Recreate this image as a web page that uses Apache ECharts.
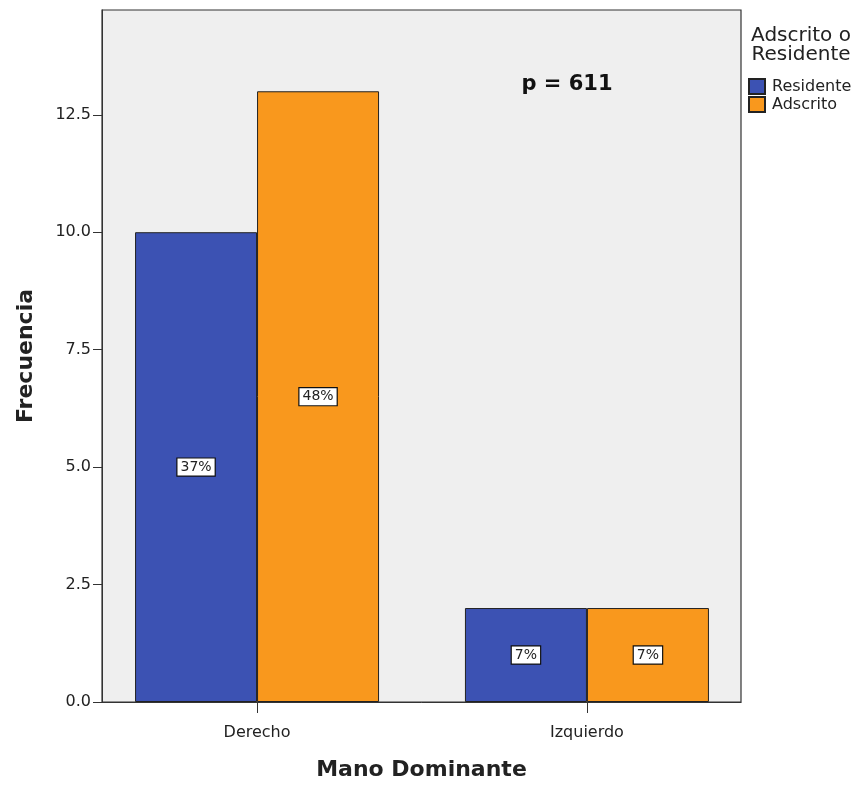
<!DOCTYPE html>
<html>
<head>
<meta charset="utf-8">
<script src="https://cdn.jsdelivr.net/npm/echarts@6/dist/echarts.min.js"></script>
<style>
  html, body { margin: 0; padding: 0; background: #ffffff; }
  #chart { width: 857px; height: 786px; }
</style>
</head>
<body>
<div id="chart"></div>
<script>
// ---- data ----
var categories = ['Derecho', 'Izquierdo'];
var seriesNames = ['Residente', 'Adscrito'];
var residente = [10, 2];
var adscrito = [13, 2];
var residentePct = ['37%', '7%'];
var adscritoPct = ['48%', '7%'];
var yTicks = [0, 2.5, 5, 7.5, 10, 12.5];
var legendTitle = 'Adscrito o\nResidente';
var annotation = 'p = 611';

var FONT = '"DejaVu Sans", Verdana, sans-serif';

function toPairs(vals) {
  return vals.map(function (v, i) { return [i, v]; });
}

function makeSeries(name, vals, pcts, color) {
  return {
    name: name,
    type: 'bar',
    barWidth: 122,
    barGap: '0%',
    data: toPairs(vals),
    itemStyle: { color: color, borderColor: '#222', borderWidth: 1 },
    label: {
      show: true,
      position: 'inside',
      formatter: function (p) { return pcts[p.dataIndex]; },
      color: '#222',
      fontFamily: FONT,
      fontSize: 14,
      backgroundColor: '#ffffff',
      borderColor: '#111',
      borderWidth: 1.2,
      padding: [2, 3, 1, 3]
    }
  };
}

var chart = echarts.init(document.getElementById('chart'), null, { renderer: 'canvas' });
chart.setOption({
  animation: false,
  backgroundColor: '#ffffff',
  grid: {
    left: 102, top: 10, width: 639, height: 701,
    show: true, backgroundColor: '#efefef', borderColor: '#333', borderWidth: 1.2
  },
  legend: {
    orient: 'vertical',
    left: 748, top: 78,
    padding: 0,
    itemWidth: 16, itemHeight: 15, itemGap: 1,
    icon: 'rect',
    data: seriesNames,
    textStyle: { fontFamily: FONT, fontSize: 16, color: '#222', padding: [0, 0, 0, 2] }
  },
  xAxis: {
    type: 'value',
    min: -0.47, max: 1.467,
    name: 'Mano Dominante',
    nameLocation: 'middle',
    nameGap: 57,
    nameTextStyle: { fontFamily: FONT, fontSize: 22, fontWeight: 'bold', color: '#222' },
    splitLine: { show: false },
    axisLine: { show: true, onZero: false, lineStyle: { color: '#333' } },
    axisTick: { show: true, customValues: [0, 1], length: 11, inside: false, lineStyle: { color: '#333' } },
    axisLabel: {
      customValues: [0, 1],
      formatter: function (v) { return categories[Math.round(v)] || ''; },
      fontFamily: FONT, fontSize: 16, color: '#222', margin: 23
    }
  },
  yAxis: {
    type: 'value',
    min: 0, max: 14.73,
    name: 'Frecuencia',
    nameLocation: 'middle',
    nameGap: 65,
    nameRotate: 90,
    nameTextStyle: { fontFamily: FONT, fontSize: 22, fontWeight: 'bold', color: '#222' },
    splitLine: { show: false },
    axisLine: { show: true, onZero: false, lineStyle: { color: '#333' } },
    axisTick: { show: true, customValues: yTicks, length: 9, lineStyle: { color: '#333' } },
    axisLabel: {
      customValues: yTicks,
      formatter: function (v) { return v.toFixed(1); },
      fontFamily: FONT, fontSize: 16, color: '#222', margin: 11
    }
  },
  series: [
    makeSeries(seriesNames[0], residente, residentePct, '#3c52b3'),
    makeSeries(seriesNames[1], adscrito, adscritoPct, '#f9981d')
  ],
  graphic: [
    {
      type: 'text', x: 801, y: 26,
      style: { text: legendTitle, fontFamily: FONT, fontSize: 20, fill: '#222', align: 'center', verticalAlign: 'top', lineHeight: 19 }
    },
    {
      type: 'text', x: 567, y: 85,
      style: { text: annotation, fontFamily: FONT, fontSize: 21, fontWeight: 'bold', fill: '#111', align: 'center', verticalAlign: 'middle' }
    }
  ]
});
</script>
</body>
</html>
